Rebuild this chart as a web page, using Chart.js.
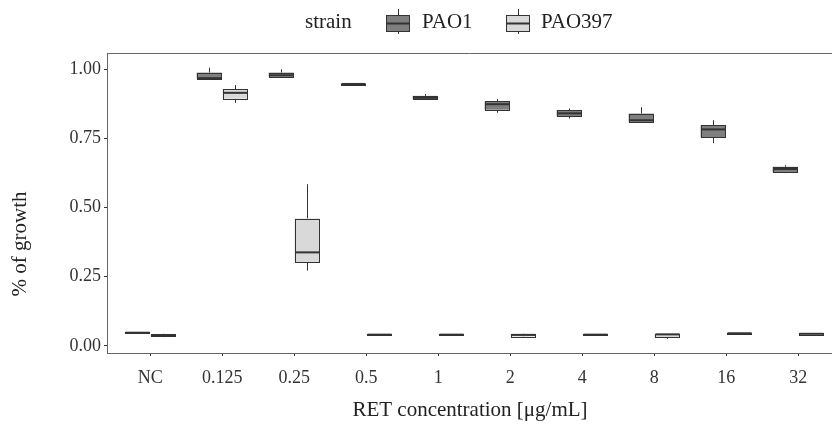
<!DOCTYPE html>
<html>
<head>
<meta charset="utf-8">
<script src="https://cdn.jsdelivr.net/npm/chart.js@4"></script>
<style>
  html, body { margin: 0; padding: 0; background: #ffffff; overflow: hidden; }
  #wrap { width: 832px; height: 425px; }
</style>
</head>
<body>
<div id="wrap"><canvas id="c" width="832" height="425"></canvas></div>
<script>
// ---------- data ----------
const categories = ['NC', '0.125', '0.25', '0.5', '1', '2', '4', '8', '16', '32'];
const seriesNames = ['PAO1', 'PAO397'];
const legendTitle = 'strain';
const xTitle = 'RET concentration [μg/mL]';
const yTitle = '% of growth';
const yTickValues = [0, 0.25, 0.5, 0.75, 1.0];

const pao1Min = [0.047, 0.963, 0.970, 0.944, 0.889, 0.842, 0.821, 0.807, 0.732, 0.624];
const pao1Q1  = [0.047, 0.965, 0.972, 0.945, 0.892, 0.853, 0.830, 0.809, 0.753, 0.628];
const pao1Med = [0.048, 0.967, 0.977, 0.946, 0.896, 0.873, 0.840, 0.815, 0.782, 0.639];
const pao1Q3  = [0.049, 0.987, 0.987, 0.947, 0.903, 0.883, 0.851, 0.839, 0.797, 0.647];
const pao1Max = [0.050, 1.005, 0.999, 0.948, 0.910, 0.892, 0.857, 0.862, 0.815, 0.653];

const pao397Min = [0.032, 0.878, 0.272, 0.040, 0.038, 0.030, 0.040, 0.026, 0.045, 0.041];
const pao397Q1  = [0.035, 0.893, 0.303, 0.040, 0.040, 0.034, 0.0405, 0.031, 0.045, 0.041];
const pao397Med = [0.037, 0.914, 0.338, 0.041, 0.041, 0.040, 0.041, 0.042, 0.046, 0.044];
const pao397Q3  = [0.043, 0.927, 0.460, 0.042, 0.042, 0.044, 0.043, 0.044, 0.047, 0.046];
const pao397Max = [0.044, 0.942, 0.584, 0.042, 0.042, 0.045, 0.043, 0.045, 0.047, 0.046];

const fills = ['#7f7f7f', '#d9d9d9'];
const stroke = '#333333';
const FONT = "'Liberation Serif', 'DejaVu Serif', serif";

Chart.defaults.font.family = FONT;
Chart.defaults.color = '#333333';

const stats = [
  { min: pao1Min, q1: pao1Q1, med: pao1Med, q3: pao1Q3, max: pao1Max },
  { min: pao397Min, q1: pao397Q1, med: pao397Med, q3: pao397Q3, max: pao397Max }
];

function boxData(s) {
  return categories.map((c, i) => ({ x: i, y: [s.q1[i], s.q3[i]] }));
}

const crisp = v => Math.round(v) + 0.5;

const boxPlugin = {
  id: 'boxplot',
  beforeDatasetsDraw(chart) {
    const ctx = chart.ctx, ys = chart.scales.y;
    ctx.save();
    ctx.strokeStyle = stroke;
    ctx.lineWidth = 1;
    chart.data.datasets.forEach((ds, di) => {
      const meta = chart.getDatasetMeta(di);
      const s = stats[di];
      meta.data.forEach((el, i) => {
        const x = crisp(el.x);
        ctx.beginPath();
        ctx.moveTo(x, ys.getPixelForValue(s.max[i]));
        ctx.lineTo(x, ys.getPixelForValue(s.q3[i]));
        ctx.moveTo(x, ys.getPixelForValue(s.q1[i]));
        ctx.lineTo(x, ys.getPixelForValue(s.min[i]));
        ctx.stroke();
      });
    });
    ctx.restore();
  },
  afterDatasetsDraw(chart) {
    const ctx = chart.ctx, ys = chart.scales.y;
    ctx.save();
    chart.data.datasets.forEach((ds, di) => {
      const meta = chart.getDatasetMeta(di);
      const s = stats[di];
      meta.data.forEach((el, i) => {
        const l = Math.round(el.x - el.width / 2), r = Math.round(el.x + el.width / 2);
        const t = Math.round(ys.getPixelForValue(s.q3[i])), b = Math.round(ys.getPixelForValue(s.q1[i]));
        ctx.strokeStyle = stroke;
        ctx.lineWidth = 1;
        ctx.strokeRect(l + 0.5, t + 0.5, r - l - 1, Math.max(b - t, 1));
        ctx.lineWidth = 2;
        const m = ys.getPixelForValue(s.med[i]);
        ctx.beginPath();
        ctx.moveTo(l + 0.5, m);
        ctx.lineTo(r - 0.5, m);
        ctx.stroke();
      });
    });
    ctx.restore();
  },
  afterDraw(chart) {
    const ctx = chart.ctx, a = chart.chartArea;
    ctx.save();
    // top border of panel
    ctx.strokeStyle = '#666666';
    ctx.lineWidth = 1;
    ctx.beginPath();
    ctx.moveTo(a.left, crisp(a.top));
    ctx.lineTo(a.right, crisp(a.top));
    ctx.stroke();

    // axis titles
    ctx.fillStyle = '#222222';
    ctx.font = '21px ' + FONT;
    ctx.textAlign = 'center';
    ctx.textBaseline = 'middle';
    ctx.fillText(xTitle, 470, 410);
    ctx.save();
    ctx.translate(20, 244);
    ctx.rotate(-Math.PI / 2);
    ctx.fillText(yTitle, 0, 0);
    ctx.restore();

    // legend
    ctx.textAlign = 'left';
    ctx.fillText(legendTitle, 305, 22);
    const keyX = [386, 506], textX = [422, 541];
    seriesNames.forEach((name, k) => {
      const l = keyX[k], w = 24, t = 15, h = 17;
      ctx.strokeStyle = stroke;
      ctx.lineWidth = 1;
      ctx.beginPath();
      ctx.moveTo(crisp(l + w / 2), 9);
      ctx.lineTo(crisp(l + w / 2), 34);
      ctx.stroke();
      ctx.fillStyle = fills[k];
      ctx.fillRect(l, t, w, h);
      ctx.strokeRect(l + 0.5, t + 0.5, w - 1, h - 1);
      ctx.lineWidth = 2;
      ctx.beginPath();
      ctx.moveTo(l, t + h / 2);
      ctx.lineTo(l + w, t + h / 2);
      ctx.stroke();
      ctx.fillStyle = '#222222';
      ctx.fillText(name, textX[k], 22);
    });
    ctx.restore();
  }
};

new Chart(document.getElementById('c'), {
  type: 'bar',
  data: {
    datasets: seriesNames.map((name, k) => ({
      label: name,
      data: boxData(stats[k]),
      backgroundColor: fills[k],
      borderWidth: 0,
      categoryPercentage: 0.72,
      barPercentage: 0.97
    }))
  },
  options: {
    responsive: false,
    animation: false,
    layout: { padding: { top: 53, left: 0, right: 0, bottom: 0 } },
    plugins: { legend: { display: false }, tooltip: { enabled: false } },
    scales: {
      x: {
        type: 'linear',
        offset: false,
        min: -0.6,
        max: 9.47,
        afterFit: s => { s.height = 72; },
        afterBuildTicks: s => { s.ticks = categories.map((c, i) => ({ value: i })); },
        ticks: {
          stepSize: 1,
          includeBounds: false,
          autoSkip: false,
          maxRotation: 0,
          padding: 11,
          color: '#333333',
          font: { size: 18 },
          callback: v => categories[v] !== undefined ? categories[v] : ''
        },
        grid: { display: true, offset: false, drawOnChartArea: false, drawTicks: true, tickLength: 3, tickColor: '#333333' },
        border: { display: true, color: '#666666', width: 1 }
      },
      y: {
        type: 'linear',
        min: -0.0253,
        max: 1.0578,
        afterFit: s => { s.width = 107; },
        afterBuildTicks: s => { s.ticks = yTickValues.map(v => ({ value: v })); },
        ticks: {
          includeBounds: false,
          padding: 3,
          color: '#333333',
          font: { size: 18 },
          callback: v => Number(v).toFixed(2)
        },
        grid: { display: true, drawOnChartArea: false, drawTicks: true, tickLength: 3, tickColor: '#333333' },
        border: { display: true, color: '#666666', width: 1 }
      }
    }
  },
  plugins: [boxPlugin]
});
</script>
</body>
</html>
